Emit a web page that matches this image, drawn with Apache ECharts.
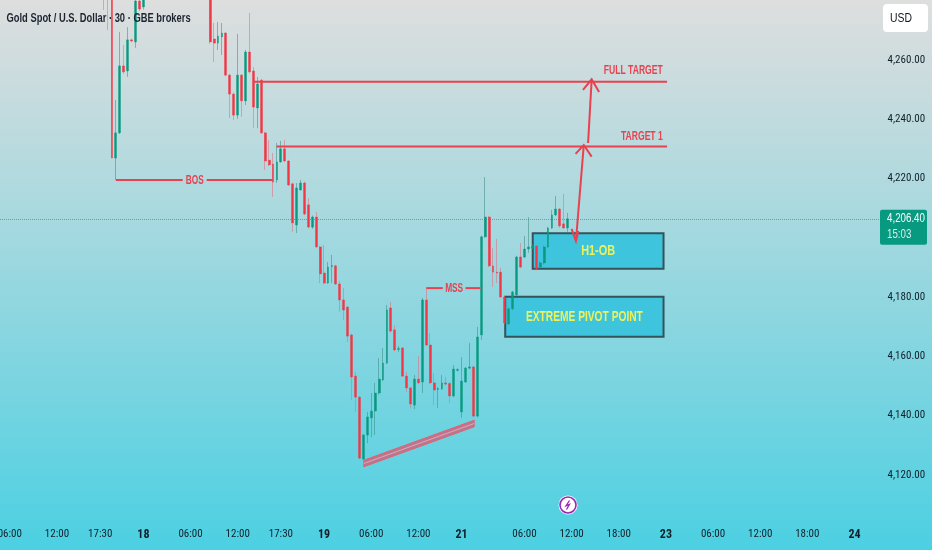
<!DOCTYPE html>
<html><head><meta charset="utf-8">
<style>html,body{margin:0;padding:0;background:#fff}#c{width:932px;height:550px}</style>
<script src="https://cdn.jsdelivr.net/npm/echarts@6/dist/echarts.min.js"></script>
</head><body><div id="c"></div>
<script>
var FONT = '"Roboto Condensed","Open Sans Condensed","Liberation Sans Narrow","Liberation Sans",sans-serif';
var BASE = '"Liberation Sans",sans-serif';
var SLOTS = 224;
var priceLabels = [4120,4140,4160,4180,4220,4240,4260];
var tickIndex = [2,14,25,36,48,60,71,82,94,106,117,133,145,157,169,181,193,205,217];
var tickNames = ['06:00','12:00','17:30','18','06:00','12:00','17:30','19','06:00','12:00','21','06:00','12:00','18:00','23','06:00','12:00','18:00','24'];
var boldTicks = ['18','19','21','23','24'];
var lastPrice = 4206.4;
// open, close, low, high
var earlyStart = 26;
var earlyBars = [
[4295,4290,4276.9,4298],[4295,4290,4270.1,4298],[4290,4226.9,4226.9,4295],[4226.9,4235.4,4219.5,4246.5],[4235.4,4258,4235,4269.5],
[4258,4256,4255.3,4265.1],[4256.3,4266.8,4254.3,4271.1],[4266.8,4266.4,4266,4267.2],[4266.1,4279.9,4264.1,4285],[4279.9,4277.2,4276.5,4285],[4277.9,4282,4277,4285]];
var lateStart = 53;
var lateBars = [
[4290,4266.1,4265.5,4295],[4267.1,4265.7,4259.3,4272.5],[4265.7,4268.1,4263.4,4272.8],[4267.8,4269.1,4261.7,4272.5],[4269.1,4254.9,4254.5,4269.5],
[4254.9,4248.5,4240.4,4255.3],[4248.5,4241.4,4239.7,4249],[4241.4,4254.9,4240.1,4268.8],[4254.9,4246.2,4240.8,4255.3],[4246.2,4262.7,4244.8,4263.4],
[4262.7,4256,4255.5,4275.9],[4256.3,4244.1,4237,4257.6],[4243.8,4251.9,4237,4254.3],[4253.2,4235.4,4235,4253.6],[4235.4,4225.9,4222.9,4235.8],
[4226.2,4224.6,4224.2,4233],[4224.9,4218.8,4213.8,4228.6],[4219.5,4225.6,4218.5,4232],[4225.6,4230,4225.3,4232.7],[4230,4225.9,4225.5,4233],
[4225.9,4217.8,4217.4,4226.3],[4218.2,4205,4202,4218.6],[4204.3,4216.8,4201.6,4218.5],[4216.1,4218.5,4216,4219.5],[4218.5,4208,4207.6,4219],
[4211.1,4203.6,4203.2,4213.4],[4203.6,4207,4203,4207.5],[4207,4196.9,4196.5,4208.7],[4196.9,4187.8,4184.7,4197.3],[4188.1,4184.7,4184.3,4197.6],
[4184.7,4190.1,4184.4,4191.8],[4190.3,4190.6,4184.7,4194.2],[4190.5,4184.4,4184,4190.9],[4184.4,4179,4175,4185.4],[4179,4175.6,4172.2,4183],
[4176.6,4166.8,4164.8,4177],[4167.2,4153,4145.2,4167.6],[4153.3,4146.2,4141.2,4154.7],[4146.2,4125.6,4125.2,4146.6],[4125.3,4133.4,4125,4133.8],
[4133.4,4139.5,4130.7,4141.2],[4139.2,4141.5,4132.7,4147.6],[4141.5,4147.6,4133.4,4151],[4147.6,4152.3,4147,4159.4],[4152,4157.7,4151.6,4162.8],
[4157.7,4175.6,4157.3,4177.3],[4176.3,4168.5,4168,4178.3],[4168.9,4162.1,4161.7,4170.5],[4162.3,4162.6,4161.4,4163.5],[4162.8,4153.3,4153,4163.1],
[4153.3,4149.3,4147.9,4154.7],[4149.3,4143.9,4142.5,4149.7],[4143.5,4152.3,4142.2,4153.7],[4152.3,4151,4150.6,4160.1],[4151.3,4179,4147.6,4179.7],
[4179,4163.8,4163.4,4183],[4163.8,4151,4150.6,4167.8],[4151,4148.6,4143.5,4154.3],[4148.8,4149.1,4142.5,4149.6],[4149,4151,4148.6,4153.7],
[4151,4150.6,4150.2,4153],[4150.8,4146.6,4144.2,4151.2],[4146.6,4155.7,4146.2,4157],[4155.2,4155.5,4155,4156],[4141.2,4151.6,4139.2,4159.7],
[4151.3,4156,4151,4156.4],[4156,4156.4,4155.6,4164.5],[4156.4,4139.8,4139.4,4156.8],[4139.8,4166.5,4139.4,4169.9],[4167.2,4200.3,4165.5,4200.7],
[4200.3,4207,4200,4220.5],[4207,4190.5,4190.1,4207.4],[4190.5,4188.4,4183.4,4196.5],[4188.4,4188.1,4184.7,4199.6],[4188.4,4180,4179.6,4189.8],
[4180,4171.2,4170.8,4180.4],[4170.9,4176,4170.5,4176.4],[4176,4181.7,4175.6,4182.1],[4180.7,4193.5,4180.3,4193.9],[4193.5,4190.1,4189.7,4198.2],
[4193.5,4196.2,4193.1,4200.6],[4196.2,4196.9,4194.9,4207],[4196.5,4197.2,4196,4197.8],[4197.2,4189.4,4189,4197.6],[4190.1,4191.5,4189.6,4192],
[4191.5,4196.9,4191,4197.3],[4196.9,4203.3,4196.5,4203.7],[4203.3,4207.7,4203,4209.4],[4207.7,4209.7,4207.3,4214.1],[4209.7,4204,4203.3,4210],
[4204.7,4203.3,4203,4214.8],[4203.3,4206.4,4202,4208.4]];
var channelEnds = [[92.1,4123.8],[120.2,4137.3]];
var channelHalf = 1.1;
var fullTarget = [[64,4252.7],[169.3,4252.7]];
var targetOne = [[69.9,4230.8],[169.3,4230.8]];
var bosLeft = [[29,4219.5],[46,4219.5]], bosRight = [[52.1,4219.5],[68.9,4219.5]];
var mssLeft = [[108,4183],[112.2,4183]], mssRight = [[118,4183],[121.8,4183]];
var boxH1 = [135.1,4201.5,168.4,4189.5];
var boxPivot = [128.1,4180.1,168.4,4166.6];
var shaftLow = [[146.1,4198.9],[148.1,4231.3]];
var shaftHigh = [[149.2,4232],[150.1,4253.3]];
var headOne = [[146,4228.3],[148.1,4231.3],[150.1,4227.4]];
var headFull = [[147.9,4249.9],[150.1,4253.5],[152,4249.2]];
var headDown = [[145,4203],[146.1,4198.9],[146.7,4202.3]];
var noteTexts = [['BOS',49.1,4219.5,'center',13,.64],['MSS',115.1,4183,'center',13,.64],['FULL TARGET',168.2,4256.4,'right',13,.66],['TARGET 1',168.2,4234.3,'right',13,.66]];

var chart = echarts.init(document.getElementById('c'),null,{renderer:'canvas'});
var cats = []; for (var i=0;i<SLOTS;i++){ var k=tickIndex.indexOf(i); cats.push(k>=0?tickNames[k]:''); }
var RED='#F23645', GREEN='#089981', LINE='#e9414f';
var wick=[], body=[];
function addBars(list,start){ list.forEach(function(b,i){
  wick.push([start+i,b[0],b[1],b[2],b[3]]);
  body.push([start+i,b[0],b[1],Math.min(b[0],b[1]),Math.max(b[0],b[1])]);
});}
addBars(earlyBars,earlyStart); addBars(lateBars,lateStart);
function seg(pts,w){return {type:'line',xAxisIndex:1,yAxisIndex:0,data:pts,showSymbol:false,symbol:'none',silent:true,clip:false,z:6,animation:false,lineStyle:{width:w||2,color:LINE,cap:'butt',join:'miter'}};}
function boxSeries(b){
  return {type:'custom',xAxisIndex:1,yAxisIndex:0,clip:false,silent:true,z:3,animation:false,data:[b],encode:{x:[0,2],y:[1,3]},
    renderItem:function(p,api){
      var a=api.coord([api.value(0),api.value(1)]),d=api.coord([api.value(2),api.value(3)]);
      return {type:'group',children:[
        {type:'rect',shape:{x:a[0],y:a[1],width:d[0]-a[0],height:d[1]-a[1]},style:{fill:'#3ec4dc',stroke:'#34535a',lineWidth:2}}]};
    }};
}
function boxLabel(b,label,fs,sx){
  return {type:'custom',xAxisIndex:1,yAxisIndex:0,clip:false,silent:true,z:7,animation:false,data:[b],encode:{x:[0,2],y:[1,3]},
    renderItem:function(p,api){
      var a=api.coord([api.value(0),api.value(1)]),d=api.coord([api.value(2),api.value(3)]);
      return {type:'text',x:(a[0]+d[0])/2,y:(a[1]+d[1])/2,scaleX:sx,style:{x:0,y:0,text:label,fill:'#eef25a',font:'bold '+fs+'px '+BASE,align:'center',verticalAlign:'middle'}};
    }};
}
var notes={type:'custom',xAxisIndex:1,yAxisIndex:0,clip:false,silent:true,z:7,animation:false,data:noteTexts.map(function(n){return [n[1],n[2]];}),encode:{x:0,y:1},
  renderItem:function(p,api){
    var n=noteTexts[p.dataIndex],c=api.coord([api.value(0),api.value(1)]);
    return {type:'text',x:c[0],y:c[1],scaleX:n[5],style:{x:0,y:0,text:n[0],fill:LINE,font:'bold '+n[4]+'px '+BASE,align:n[3],verticalAlign:'middle'}};
  }};
var opt={
  animation:false,
  backgroundColor:{type:'linear',x:0,y:0,x2:0,y2:1,colorStops:[{offset:0,color:'#dedede'},{offset:.45,color:'#a0d8df'},{offset:1,color:'#4bd0e2'}]},
  grid:{left:0,right:52,top:0.75,bottom:16,containLabel:false,outerBoundsMode:'none'},
  xAxis:[
    {type:'category',data:cats,boundaryGap:true,axisLine:{show:false},axisTick:{show:false},splitLine:{show:false},
      axisLabel:{show:true,interval:function(i){return tickIndex.indexOf(i)>=0;},margin:-5,color:'#10202a',fontFamily:FONT,fontSize:11,hideOverlap:false,showMinLabel:true,showMaxLabel:true,
        formatter:function(v){return boldTicks.indexOf(v)>=0?'{b|'+v+'}':v;},rich:{b:{fontWeight:'bold',fontFamily:FONT,fontSize:12,color:'#10202a'}}}},
    {type:'value',min:-0.5,max:SLOTS-0.5,show:false}
  ],
  yAxis:[{type:'value',position:'right',min:4100,max:4280,interval:20,axisLine:{show:false},axisTick:{show:false},splitLine:{show:false},
    axisLabel:{margin:7.5,color:'#10202a',fontFamily:FONT,fontSize:11,align:'left',customValues:priceLabels,
      formatter:function(v){return v.toLocaleString('en-US',{minimumFractionDigits:2,maximumFractionDigits:2});}}}],
  graphic:[
    {type:'text',x:6.5,y:18,scaleX:.72,z:20,style:{text:'Gold Spot / U.S. Dollar · 30 · GBE brokers',fill:'#1c2430',font:'bold 13px '+BASE,verticalAlign:'middle'}},
    {type:'rect',x:883,y:4,shape:{width:45,height:28,r:4},style:{fill:'#fff'},z:20},
    {type:'text',x:890,y:18,scaleX:.8,style:{text:'USD',fill:'#131722',font:'13px '+BASE,verticalAlign:'middle'},z:21},
    {type:'group',x:559,y:496,z:20,children:[
      {type:'circle',shape:{cx:9,cy:9,r:9.5},style:{fill:'#fff'}},
      {type:'circle',shape:{cx:9,cy:9,r:8},style:{fill:'#fff',stroke:'#9c27b0',lineWidth:1.6}},
      {type:'polyline',shape:{points:[[10.5,4.5],[7,9.8],[10.5,8.4],[7.5,13.5]]},style:{stroke:'#9c27b0',fill:'none',lineWidth:1.3}}
    ]}
  ],
  series:[
    {name:'wicks',type:'candlestick',xAxisIndex:0,yAxisIndex:0,data:wick,barWidth:1,z:4,silent:true,clip:true,animation:false,encode:{x:0,y:[1,2,3,4]},
      itemStyle:{color:'rgba(0,0,0,0)',color0:'rgba(0,0,0,0)',borderColor:'rgba(60,140,130,.55)',borderColor0:'rgba(225,110,125,.55)',borderWidth:1},
      markLine:{silent:true,symbol:'none',animation:false,z:2,label:{show:false},lineStyle:{type:'dotted',color:'#2a9d8f',width:1,opacity:.7},data:[{yAxis:lastPrice}]}},
    {name:'candles',type:'candlestick',xAxisIndex:0,yAxisIndex:0,data:body,barWidth:2.4,z:5,silent:true,clip:true,animation:false,encode:{x:0,y:[1,2,3,4]},
      itemStyle:{color:GREEN,color0:RED,borderColor:GREEN,borderColor0:RED,borderWidth:0.4}},
    boxSeries(boxH1),boxSeries(boxPivot),
    boxLabel(boxH1,'H1-OB',14,.78),boxLabel(boxPivot,'EXTREME PIVOT POINT',14,.73),
    seg(fullTarget),seg(targetOne),seg(bosLeft),seg(bosRight),seg(mssLeft),seg(mssRight),
    seg(shaftLow),seg(shaftHigh),seg(headOne),seg(headFull),seg(headDown),
    {type:'custom',xAxisIndex:1,yAxisIndex:0,clip:false,silent:true,z:5,animation:false,data:[[channelEnds[0][0],channelEnds[0][1],channelEnds[1][0],channelEnds[1][1],channelHalf]],
      encode:{x:[0,2],y:[1,3]},
      renderItem:function(p,api){
        var x1=api.value(0),y1=api.value(1),x2=api.value(2),y2=api.value(3),h=api.value(4);
        var A=api.coord([x1,y1+h]),B=api.coord([x2,y2+h]),C=api.coord([x2,y2-h]),D=api.coord([x1,y1-h]),M=api.coord([x1,y1]),N=api.coord([x2,y2]);
        return {type:'group',children:[
          {type:'polygon',shape:{points:[A,B,C,D]},style:{fill:'rgba(205,95,125,0.8)',stroke:'#e8606f',lineWidth:1}},
          {type:'line',shape:{x1:M[0],y1:M[1],x2:N[0],y2:N[1]},style:{stroke:'rgba(240,175,185,.8)',lineWidth:1}}
        ]};
      }},
    notes,
    {type:'custom',xAxisIndex:1,yAxisIndex:0,clip:false,silent:true,z:10,animation:false,data:[[lastPrice]],encode:{y:0},
      renderItem:function(p,api){
        var y=api.coord([0,api.value(0)])[1];
        return {type:'group',children:[
          {type:'rect',shape:{x:880,y:y-9,width:47,height:35,r:2},style:{fill:GREEN}},
          {type:'text',x:887,y:y,scaleX:.75,style:{x:0,y:0,text:'4,206.40',fill:'#fff',font:'13px '+BASE,verticalAlign:'middle'}},
          {type:'text',x:887,y:y+16,scaleX:.75,style:{x:0,y:0,text:'15:03',fill:'#d7f0ea',font:'13px '+BASE,verticalAlign:'middle'}}
        ]};
      }}
  ]
};
chart.setOption(opt);
</script></body></html>
